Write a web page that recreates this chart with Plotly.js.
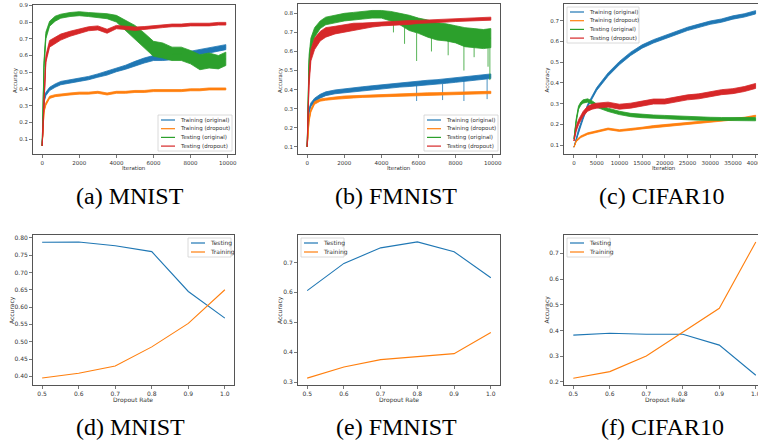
<!DOCTYPE html>
<html>
<head>
<meta charset="utf-8">
<script src="https://cdn.plot.ly/plotly-3.0.1.min.js"></script>
<style>html,body{margin:0;padding:0;background:#fff;}#chart{width:758px;height:441px;}</style>
</head>
<body>
<div id="chart"></div>
<script>
// ---------- DATA ----------
const legendNames = ["Training (original)", "Training (dropout)", "Testing (original)", "Testing (dropout)"];
const colors = ["#1f77b4", "#ff7f0e", "#2ca02c", "#d62728"];

// MNIST / FMNIST iteration grid
const iterAB = [0,100,200,400,700,1000,1500,2000,2500,3000,3500,4000,4500,5000,5500,6000,6500,7000,7500,8000,8500,9000,9500,9900];

// (a) MNIST accuracy curves (centre) and noise half-width
const mnTrainOrig = [0.06,0.33,0.37,0.40,0.42,0.435,0.445,0.455,0.465,0.48,0.495,0.515,0.53,0.55,0.57,0.585,0.585,0.59,0.60,0.61,0.62,0.63,0.64,0.65];
const mnTrainOrigSp = [0,0.01,0.01,0.01,0.01,0.01,0.01,0.01,0.01,0.01,0.012,0.012,0.012,0.015,0.015,0.015,0.015,0.015,0.015,0.015,0.015,0.015,0.015,0.015];
const mnTrainDrop = [0.06,0.27,0.31,0.35,0.36,0.365,0.37,0.375,0.375,0.38,0.37,0.38,0.38,0.385,0.385,0.39,0.39,0.39,0.39,0.395,0.395,0.40,0.40,0.40];
const mnTrainDropSp = [0,0.008,0.008,0.007,0.006,0.006,0.006,0.006,0.006,0.006,0.006,0.006,0.006,0.006,0.006,0.006,0.006,0.006,0.006,0.006,0.006,0.006,0.006,0.006];
const mnTestOrig = [0.06,0.55,0.72,0.79,0.82,0.835,0.845,0.85,0.845,0.84,0.835,0.82,0.78,0.74,0.69,0.64,0.63,0.61,0.61,0.59,0.56,0.57,0.56,0.58];
const mnTestOrigSp = [0,0.02,0.02,0.015,0.015,0.012,0.012,0.012,0.012,0.012,0.015,0.02,0.03,0.04,0.045,0.045,0.045,0.04,0.04,0.04,0.045,0.045,0.04,0.04];
const mnTestDrop = [0.06,0.35,0.58,0.67,0.69,0.71,0.73,0.745,0.76,0.765,0.745,0.77,0.765,0.76,0.765,0.77,0.775,0.78,0.78,0.785,0.785,0.785,0.79,0.79];
const mnTestDropSp = [0,0.02,0.02,0.02,0.02,0.018,0.015,0.015,0.012,0.012,0.012,0.01,0.01,0.01,0.008,0.008,0.008,0.008,0.008,0.008,0.008,0.008,0.008,0.008];

// (b) FMNIST
const fmTrainOrig = [0.10,0.29,0.32,0.345,0.365,0.378,0.388,0.395,0.40,0.405,0.41,0.415,0.42,0.425,0.428,0.433,0.437,0.44,0.445,0.45,0.455,0.46,0.465,0.47];
const fmTrainOrigSp = [0,0.01,0.01,0.01,0.01,0.01,0.01,0.01,0.01,0.01,0.01,0.01,0.012,0.012,0.012,0.012,0.012,0.012,0.012,0.012,0.012,0.012,0.012,0.012];
const fmTrainDrop = [0.10,0.24,0.29,0.33,0.345,0.35,0.355,0.36,0.362,0.365,0.367,0.37,0.371,0.373,0.375,0.376,0.377,0.378,0.379,0.38,0.382,0.383,0.384,0.385];
const fmTrainDropSp = [0,0.01,0.008,0.007,0.006,0.006,0.006,0.006,0.006,0.006,0.006,0.006,0.006,0.006,0.006,0.006,0.006,0.006,0.006,0.006,0.006,0.006,0.006,0.006];
const fmTestOrig = [0.10,0.55,0.64,0.70,0.74,0.76,0.77,0.78,0.785,0.79,0.795,0.795,0.785,0.77,0.75,0.735,0.72,0.705,0.70,0.69,0.675,0.67,0.665,0.67];
const fmTestOrigSp = [0,0.03,0.03,0.025,0.02,0.02,0.02,0.02,0.02,0.02,0.02,0.02,0.025,0.03,0.04,0.04,0.045,0.045,0.045,0.045,0.05,0.05,0.05,0.05];
const fmTestDrop = [0.10,0.45,0.58,0.64,0.68,0.70,0.712,0.72,0.728,0.734,0.74,0.744,0.747,0.75,0.752,0.755,0.757,0.76,0.762,0.765,0.767,0.77,0.771,0.772];
const fmTestDropSp = [0,0.03,0.03,0.03,0.025,0.025,0.02,0.02,0.02,0.015,0.012,0.01,0.01,0.01,0.01,0.008,0.008,0.008,0.008,0.008,0.008,0.008,0.008,0.008];

// FMNIST downward noise spikes (iteration, top, bottom)
const fmTestSpikeX   = [4650, 5250, 5900, 6700, 7600, 8450, 9000, 9750, 9850];
const fmTestSpikeTop = [0.76, 0.74, 0.70, 0.68, 0.66, 0.64, 0.63, 0.62, 0.62];
const fmTestSpikeBot = [0.70, 0.64, 0.55, 0.60, 0.58, 0.50, 0.57, 0.52, 0.45];
const fmTrainSpikeX   = [5900, 7300, 8450, 9700];
const fmTrainSpikeTop = [0.425, 0.43, 0.445, 0.455];
const fmTrainSpikeBot = [0.34, 0.345, 0.34, 0.35];

// (c) CIFAR10
const iterC = [0,500,1000,1500,2000,3000,4000,5000,7500,10000,12500,15000,17500,20000,22500,25000,27500,30000,32500,35000,37500,40000];
const cfTrainOrig = [0.09,0.13,0.17,0.20,0.23,0.29,0.33,0.37,0.44,0.495,0.54,0.575,0.60,0.62,0.64,0.66,0.675,0.69,0.70,0.715,0.725,0.74];
const cfTrainOrigSp = [0,0.006,0.006,0.006,0.006,0.006,0.007,0.007,0.008,0.008,0.008,0.008,0.008,0.008,0.008,0.008,0.008,0.008,0.008,0.008,0.008,0.008];
const cfTrainDrop = [0.09,0.12,0.13,0.14,0.145,0.155,0.16,0.165,0.178,0.17,0.175,0.182,0.19,0.195,0.20,0.205,0.21,0.215,0.22,0.225,0.23,0.24];
const cfTrainDropSp = [0,0.004,0.004,0.004,0.004,0.004,0.004,0.004,0.004,0.004,0.004,0.004,0.004,0.004,0.004,0.004,0.004,0.004,0.004,0.004,0.004,0.004];
const cfTestOrig = [0.13,0.22,0.28,0.30,0.31,0.315,0.305,0.29,0.27,0.255,0.245,0.24,0.237,0.235,0.232,0.23,0.228,0.226,0.225,0.225,0.225,0.225];
const cfTestOrigSp = [0,0.008,0.008,0.008,0.008,0.008,0.008,0.008,0.008,0.008,0.008,0.008,0.008,0.008,0.008,0.008,0.008,0.008,0.008,0.008,0.008,0.008];
const cfTestDrop = [0.12,0.18,0.21,0.23,0.25,0.275,0.285,0.29,0.295,0.285,0.29,0.30,0.31,0.31,0.32,0.33,0.335,0.345,0.355,0.36,0.37,0.385];
const cfTestDropSp = [0,0.012,0.012,0.012,0.012,0.012,0.012,0.012,0.012,0.012,0.012,0.012,0.012,0.012,0.012,0.012,0.012,0.012,0.012,0.012,0.012,0.012];

// (d)-(f) accuracy vs dropout rate
const rates = [0.5,0.6,0.7,0.8,0.9,1.0];
const mnTest = [0.787,0.788,0.777,0.760,0.645,0.568];
const mnTrain = [0.395,0.409,0.430,0.485,0.553,0.650];
const fmTest = [0.606,0.697,0.749,0.769,0.736,0.649];
const fmTrain = [0.313,0.350,0.375,0.386,0.395,0.466];
const cfTest = [0.382,0.389,0.385,0.385,0.343,0.226];
const cfTrain = [0.214,0.240,0.301,0.394,0.486,0.744];

const captions = ["(a) MNIST","(b) FMNIST","(c) CIFAR10","(d) MNIST","(e) FMNIST","(f) CIFAR10"];

// ---------- LAYOUT HELPERS ----------
const W = 758, H = 441;
const fx = x => x / W;
const fy = y => 1 - y / H;

const traces = [];
function band(xs, mid, sp, color, xa, ya) {
  const up = mid.map((v, i) => v + sp[i]);
  const lo = mid.map((v, i) => v - sp[i]);
  traces.push({
    x: xs.concat(xs.slice().reverse()),
    y: up.concat(lo.slice().reverse()),
    type: 'scatter', mode: 'lines', fill: 'toself',
    fillcolor: color, line: {color: color, width: 0.8},
    xaxis: xa, yaxis: ya, showlegend: false, hoverinfo: 'skip'
  });
  traces.push({
    x: xs, y: mid, type: 'scatter', mode: 'lines',
    line: {color: color, width: 1.0},
    xaxis: xa, yaxis: ya, showlegend: false
  });
}
function spikes(xs, tops, bots, color, xa, ya) {
  const X = [], Y = [];
  xs.forEach((v, i) => { X.push(v, v, null); Y.push(tops[i], bots[i], null); });
  traces.push({x: X, y: Y, type: 'scatter', mode: 'lines', connectgaps: false,
    line: {color: color, width: 0.8}, xaxis: xa, yaxis: ya, showlegend: false});
}
function line(xs, ys, color, xa, ya) {
  traces.push({x: xs, y: ys, type: 'scatter', mode: 'lines',
    line: {color: color, width: 1.1}, xaxis: xa, yaxis: ya, showlegend: false});
}

band(iterAB, mnTrainOrig, mnTrainOrigSp, colors[0], 'x', 'y');
band(iterAB, mnTrainDrop, mnTrainDropSp, colors[1], 'x', 'y');
band(iterAB, mnTestOrig, mnTestOrigSp, colors[2], 'x', 'y');
band(iterAB, mnTestDrop, mnTestDropSp, colors[3], 'x', 'y');

band(iterAB, fmTrainOrig, fmTrainOrigSp, colors[0], 'x2', 'y2');
spikes(fmTrainSpikeX, fmTrainSpikeTop, fmTrainSpikeBot, colors[0], 'x2', 'y2');
band(iterAB, fmTrainDrop, fmTrainDropSp, colors[1], 'x2', 'y2');
band(iterAB, fmTestOrig, fmTestOrigSp, colors[2], 'x2', 'y2');
spikes(fmTestSpikeX, fmTestSpikeTop, fmTestSpikeBot, colors[2], 'x2', 'y2');
band(iterAB, fmTestDrop, fmTestDropSp, colors[3], 'x2', 'y2');

band(iterC, cfTrainOrig, cfTrainOrigSp, colors[0], 'x3', 'y3');
band(iterC, cfTrainDrop, cfTrainDropSp, colors[1], 'x3', 'y3');
band(iterC, cfTestOrig, cfTestOrigSp, colors[2], 'x3', 'y3');
band(iterC, cfTestDrop, cfTestDropSp, colors[3], 'x3', 'y3');

line(rates, mnTest, colors[0], 'x4', 'y4');
line(rates, mnTrain, colors[1], 'x4', 'y4');
line(rates, fmTest, colors[0], 'x5', 'y5');
line(rates, fmTrain, colors[1], 'x5', 'y5');
line(rates, cfTest, colors[0], 'x6', 'y6');
line(rates, cfTrain, colors[1], 'x6', 'y6');

const AX = '#555555';
function xax(px0, px1, range, dtick, fmt, yname, fs) {
  return {domain: [fx(px0), fx(px1)], range: range, dtick: dtick, tick0: 0, tickformat: fmt,
    showgrid: false, zeroline: false, showline: true, linecolor: AX, linewidth: 1, mirror: true,
    ticks: 'outside', ticklen: 3, tickwidth: 0.8, tickcolor: AX, anchor: yname,
    ticklabeloverflow: 'allow',
    tickfont: {family: 'DejaVu Sans', size: fs, color: '#333'}, fixedrange: true};
}
function yax(py0, py1, range, dtick, fmt, xname, fs, mirror) {
  return {domain: [fy(py1), fy(py0)], range: range, dtick: dtick, tick0: 0, tickformat: fmt,
    showgrid: false, zeroline: false, showline: true, linecolor: AX, linewidth: 1, mirror: mirror,
    ticks: 'outside', ticklen: 3, tickwidth: 0.8, tickcolor: AX, anchor: xname,
    ticklabeloverflow: 'allow',
    tickfont: {family: 'DejaVu Sans', size: fs, color: '#333'}, fixedrange: true};
}

const layout = {
  width: W, height: H, margin: {l: 0, r: 0, t: 0, b: 0},
  paper_bgcolor: '#fff', plot_bgcolor: '#fff', showlegend: false,
  xaxis:  xax(33, 235, [-495, 10395], 2000, 'd', 'y', 5.5),
  yaxis:  yax(5, 154, [0.011, 0.902], 0.1, '.1f', 'x', 5.5, true),
  xaxis2: xax(298, 500, [-495, 10395], 2000, 'd', 'y2', 5.5),
  yaxis2: yax(4, 154, [0.062, 0.849], 0.1, '.1f', 'x2', 5.5, true),
  xaxis3: xax(564, 758, [-2200, 40530], 5000, 'd', 'y3', 5.5),
  yaxis3: yax(4, 154, [0.057, 0.780], 0.1, '.1f', 'x3', 5.5, false),
  xaxis4: xax(33, 234, [0.475, 1.025], 0.1, '.1f', 'y4', 6),
  yaxis4: yax(235, 385, [0.375, 0.808], 0.05, '.2f', 'x4', 6, true),
  xaxis5: xax(298, 500, [0.475, 1.025], 0.1, '.1f', 'y5', 6),
  yaxis5: yax(235, 385, [0.290, 0.792], 0.1, '.1f', 'x5', 6, true),
  xaxis6: xax(564, 758, [0.4745, 1.006], 0.1, '.1f', 'y6', 6),
  yaxis6: yax(235, 385, [0.188, 0.771], 0.1, '.1f', 'x6', 6, false),
  shapes: [], annotations: []
};

function txt(text, x, y, size, opts) {
  layout.annotations.push(Object.assign({text: text, x: fx(x), y: fy(y), xref: 'paper', yref: 'paper',
    showarrow: false, xanchor: 'center', yanchor: 'middle',
    font: {family: 'DejaVu Sans', size: size, color: '#333'}}, opts || {}));
}

// axis titles
[[15, 80], [280, 80], [546.5, 80]].forEach(p => txt('Accuracy', p[0], p[1], 5.5, {textangle: -90}));
[[12, 310], [280, 310], [546.5, 310]].forEach(p => txt('Accuracy', p[0], p[1], 6, {textangle: -90}));
[[134, 168], [399, 168], [664, 168]].forEach(p => txt('Iteration', p[0], p[1], 5.5));
[[133, 400], [399, 400], [665, 400]].forEach(p => txt('Dropout Rate', p[0], p[1], 6));

// captions
const capPos = [[130, 196], [396, 196], [662, 196], [130, 427], [396, 427], [662, 427]];
captions.forEach((c, i) => txt(c, capPos[i][0], capPos[i][1], 24,
  {font: {family: 'Liberation Serif, Times New Roman, serif', size: 24, color: '#000'}}));

// legends (drawn as boxes + line samples + text)
function legendBox(left, top, w, names, cols, fs) {
  const n = names.length;
  const h = n === 4 ? 36 : 19;
  const gap = n === 4 ? 8.7 : 9;
  const first = 5;
  layout.shapes.push({type: 'rect', xref: 'paper', yref: 'paper',
    x0: fx(left), x1: fx(left + w), y0: fy(top + h), y1: fy(top),
    fillcolor: 'rgba(255,255,255,0.85)', line: {color: '#d0d0d0', width: 0.8}});
  names.forEach((nm, i) => {
    const yy = top + first + gap * i;
    layout.shapes.push({type: 'line', xref: 'paper', yref: 'paper',
      x0: fx(left + 3), x1: fx(left + 17), y0: fy(yy), y1: fy(yy),
      line: {color: cols[i], width: 1.2}});
    txt(nm, left + 20, yy, fs, {xanchor: 'left'});
  });
}
legendBox(158, 115, 74, legendNames, colors, 5.5);
legendBox(424, 115, 74, legendNames, colors, 5.5);
legendBox(567, 7, 72, legendNames, colors, 5.5);
legendBox(188, 238, 43, ["Testing", "Training"], colors.slice(0, 2), 6);
legendBox(301, 238, 43, ["Testing", "Training"], colors.slice(0, 2), 6);
legendBox(567, 238, 43, ["Testing", "Training"], colors.slice(0, 2), 6);

Plotly.newPlot('chart', traces, layout, {staticPlot: true, displayModeBar: false});
</script>
</body>
</html>
